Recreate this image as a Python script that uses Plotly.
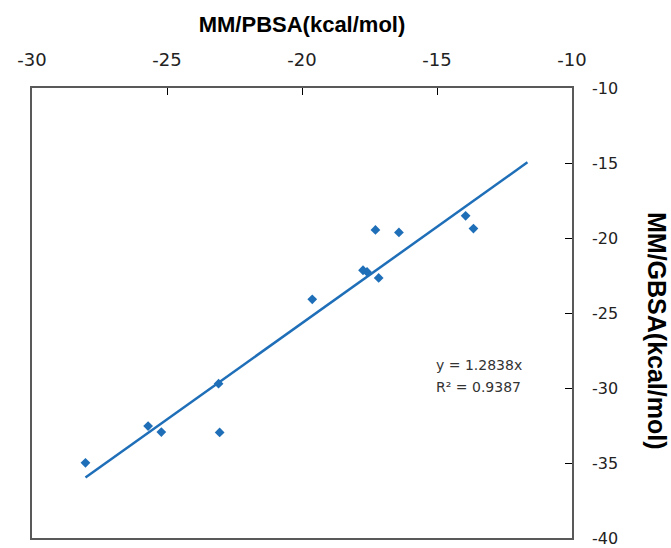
import plotly.graph_objects as go

# data
pbsa = [-28.02, -25.70, -25.21, -23.09, -23.05, -19.62, -17.74, -17.59, -17.16, -17.28, -16.41, -13.94, -13.65]
gbsa = [-34.99, -32.54, -32.94, -29.71, -32.96, -24.09, -22.15, -22.26, -22.66, -19.46, -19.63, -18.52, -19.37]
slope = 1.2838
r2 = 0.9387
forecast_forward = 2.0

x_ticks = [-30, -25, -20, -15, -10]
x_tick_labels = ["-30", "-25", "-20", "-15", "-10"]
y_ticks = [-40, -35, -30, -25, -20, -15, -10]
y_tick_labels = ["-40", "-35", "-30", "-25", "-20", "-15", "-10"]

blue = "#1f6fb8"
frame = "#595959"

line_x = [min(pbsa), max(pbsa) + forecast_forward]
line_y = [slope * v for v in line_x]

fig = go.Figure()
fig.add_trace(go.Scatter(x=line_x, y=line_y, mode="lines",
                         line=dict(color=blue, width=2.5), hoverinfo="skip"))
fig.add_trace(go.Scatter(x=pbsa, y=gbsa, mode="markers",
                         marker=dict(symbol="diamond", size=7.5, color=blue)))

fig.update_layout(
    width=671, height=548,
    margin=dict(l=32, r=99, t=88, b=10),
    paper_bgcolor="white", plot_bgcolor="white",
    showlegend=False,
    title=dict(text="<b>MM/PBSA(kcal/mol)</b>", x=(32 + 572) / 2 / 671, xanchor="center",
               y=1 - 24 / 548, yanchor="middle",
               font=dict(family="Liberation Sans", size=22, color="black")),
    xaxis=dict(range=[-30, -10], tickvals=x_ticks, ticktext=x_tick_labels, side="top",
               ticks="inside", ticklen=7, tickcolor="black", tickwidth=1.2,
               showline=True, linecolor=frame, linewidth=1.5, mirror=True,
               showgrid=False, zeroline=False, ticklabelstandoff=13, automargin=False,
               tickfont=dict(family="DejaVu Sans", size=18, color="#222")),
    yaxis=dict(range=[-40, -10], tickvals=y_ticks, ticktext=y_tick_labels, side="right",
               ticks="inside", ticklen=7, tickcolor="black", tickwidth=1.2,
               showline=True, linecolor=frame, linewidth=1.5, mirror=True,
               showgrid=False, zeroline=False, ticklabelstandoff=15, automargin=False,
               tickfont=dict(family="DejaVu Sans", size=16, color="#222")),
)

fig.add_annotation(text="<b>MM/GBSA(kcal/mol)</b>", textangle=90,
                   xref="paper", yref="paper", x=(657 - 32) / 540, y=(538 - 331) / 450,
                   xanchor="center", yanchor="middle", showarrow=False,
                   font=dict(family="Liberation Sans", size=25, color="black"))
fig.add_annotation(text=f"y = {slope}x", xref="x", yref="y", x=-15.12, y=-28.49,
                   xanchor="left", yanchor="middle", showarrow=False,
                   font=dict(family="DejaVu Sans", size=14, color="#333"))
fig.add_annotation(text=f"R² = {r2}", xref="x", yref="y", x=-15.12, y=-29.94,
                   xanchor="left", yanchor="middle", showarrow=False,
                   font=dict(family="DejaVu Sans", size=14, color="#333"))

fig.write_html("out.html", config={"displayModeBar": False},
               post_script="document.body.style.margin='0px';")
